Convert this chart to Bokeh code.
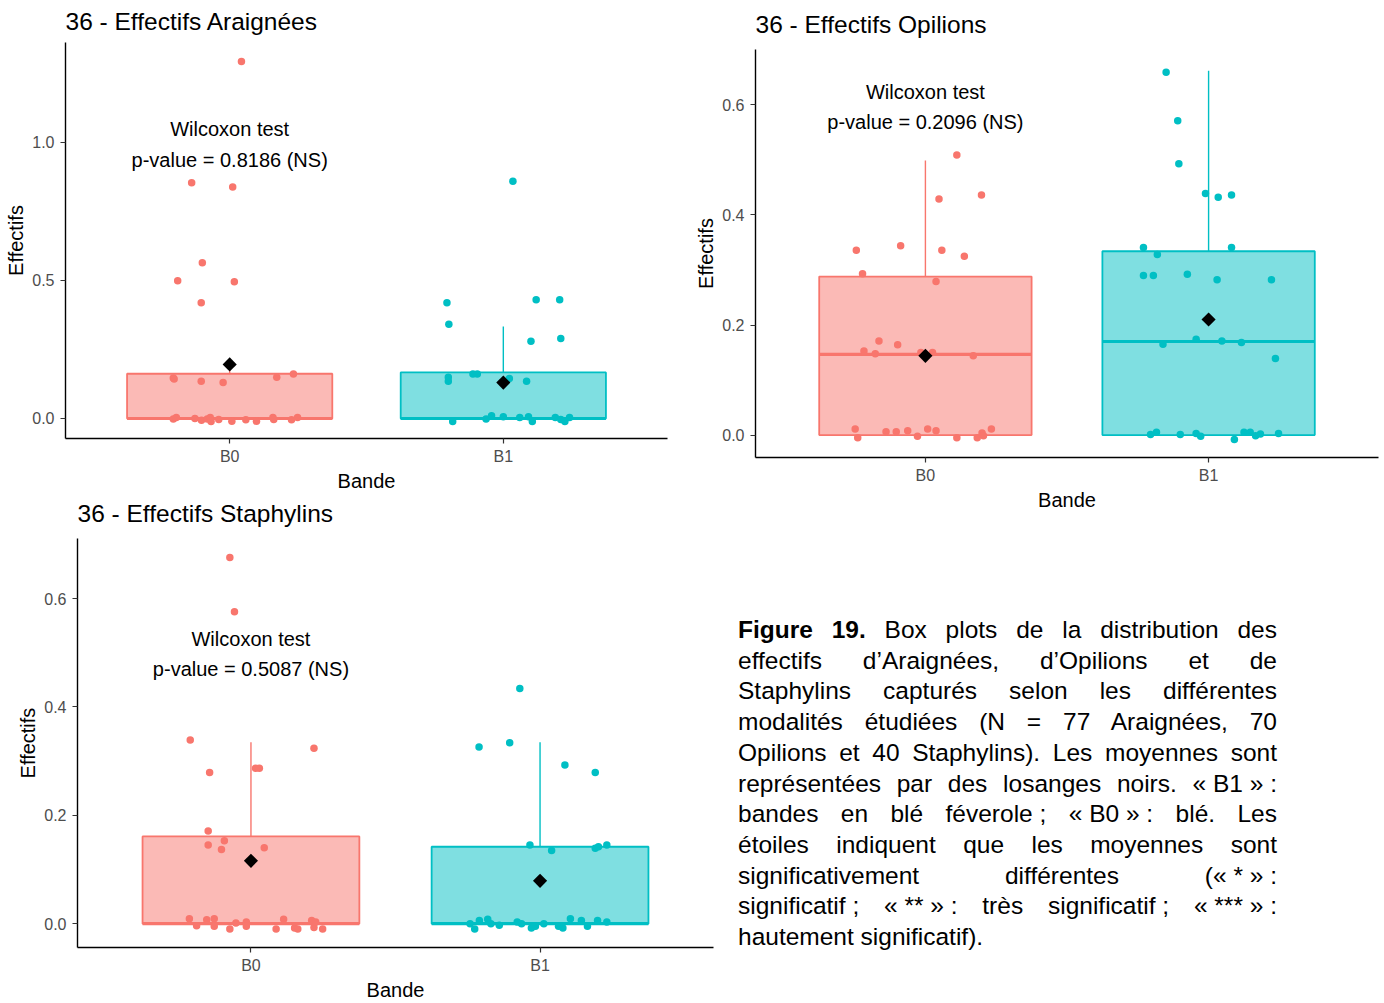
from bokeh.plotting import figure
from bokeh.models import Range1d, FixedTicker, Label, Div, NumeralTickFormatter
from bokeh.layouts import column, row
from bokeh.embed import file_html
from bokeh.resources import INLINE

GROUPS = ["B0", "B1"]
HUES = ["#F8766D", "#00BFC4"]
FONT = "Liberation Sans"

# ---------------- Araignées ----------------
ara_b0_dx = [0.043, -0.139, 0.011, -0.100, -0.190, 0.017, -0.104, -0.206, -0.203, -0.104, -0.024, 0.172, 0.233,
             -0.206, -0.195, -0.127, -0.103, -0.082, -0.071, -0.068, -0.040, 0.008, 0.059, 0.098, 0.158, 0.161,
             0.226, 0.248]
ara_b0_y = [1.293, 0.854, 0.839, 0.564, 0.499, 0.495, 0.419, 0.147, 0.143, 0.135, 0.130, 0.149, 0.161,
            -0.002, 0.004, 0.000, -0.006, -0.002, 0.004, -0.011, -0.004, -0.010, -0.005, -0.010, 0.004, -0.004,
            -0.005, 0.004]
ara_b1_dx = [0.035, -0.206, 0.120, 0.206, -0.199, 0.210, 0.101, -0.201, -0.201, -0.111, -0.095, 0.022, 0.085,
             -0.185, -0.063, -0.043, 0.000, 0.060, 0.092, 0.106, 0.190, 0.210, 0.225, 0.242]
ara_b1_y = [0.859, 0.419, 0.430, 0.430, 0.341, 0.290, 0.280, 0.149, 0.135, 0.161, 0.161, 0.145, 0.135,
            -0.011, -0.002, 0.010, 0.006, 0.004, 0.006, -0.011, 0.004, -0.004, -0.011, 0.004]
ara_q1 = [0.0, 0.0]
ara_median = [0.0, 0.0]
ara_q3 = [0.162, 0.167]
ara_upper = [0.185, 0.333]
ara_mean = [0.196, 0.130]
ara_pvalue = "0.8186"
ara_yticks = [0.0, 0.5, 1.0]

# ---------------- Opilions ----------------
opi_b0_dx = [0.111, 0.198, 0.048, -0.244, -0.0875, 0.058, 0.1375, -0.222, 0.0375, -0.164, -0.098, -0.217, -0.177,
             -0.016, 0.025, 0.169,
             -0.248, -0.239, -0.139, -0.103, -0.0625, -0.028, 0.008, 0.0375, 0.111, 0.183, 0.200, 0.205, 0.233]
opi_b0_y = [0.509, 0.436, 0.429, 0.336, 0.344, 0.336, 0.325, 0.293, 0.279, 0.171, 0.164, 0.153, 0.148,
            0.150, 0.150, 0.144,
            0.011, -0.005, 0.006, 0.006, 0.008, -0.002, 0.011, 0.008, -0.005, -0.005, 0.004, -0.001, 0.011]
opi_b1_dx = [-0.150, -0.109, -0.105, -0.011, 0.034, 0.081, -0.230, 0.081, -0.181, -0.230, -0.195, -0.075, 0.030,
             0.222, -0.161, -0.044, 0.047, 0.116, 0.236,
             -0.205, -0.184, -0.100, -0.044, -0.028, 0.091, 0.125, 0.147, 0.166, 0.183, 0.247]
opi_b1_y = [0.659, 0.571, 0.493, 0.439, 0.432, 0.436, 0.341, 0.341, 0.328, 0.290, 0.290, 0.292, 0.282,
            0.282, 0.165, 0.174, 0.171, 0.168, 0.139,
            0.001, 0.005, 0.001, 0.003, -0.002, -0.008, 0.005, 0.005, -0.001, 0.002, 0.003]
opi_q1 = [0.0, 0.0]
opi_median = [0.1467, 0.170]
opi_q3 = [0.288, 0.334]
opi_upper = [0.499, 0.662]
opi_mean = [0.144, 0.210]
opi_pvalue = "0.2096"
opi_yticks = [0.0, 0.2, 0.4, 0.6]

# ---------------- Staphylins ----------------
sta_b0_dx = [-0.073, -0.057, -0.210, 0.218, -0.143, 0.016, 0.029, -0.148, -0.092, -0.148, -0.102, 0.046,
             -0.213, -0.188, -0.153, -0.127, -0.127, -0.073, -0.052, -0.016, -0.016, 0.087, 0.113, 0.151, 0.162,
             0.210, 0.218, 0.248, 0.224]
sta_b0_y = [0.676, 0.576, 0.339, 0.324, 0.279, 0.287, 0.287, 0.171, 0.153, 0.145, 0.137, 0.140,
            0.009, -0.004, 0.007, 0.009, -0.005, -0.010, 0.001, 0.003, -0.005, -0.010, 0.008, -0.008, -0.010,
            0.006, -0.007, -0.010, 0.003]
sta_b1_dx = [-0.070, -0.211, -0.105, 0.086, 0.191, -0.035, 0.040, 0.191, 0.202, 0.231,
             -0.242, -0.226, -0.210, -0.181, -0.170, -0.141, -0.079, -0.064, -0.030, -0.016, 0.013, 0.064, 0.079,
             0.105, 0.143, 0.164, 0.199, 0.231]
sta_b1_y = [0.434, 0.326, 0.334, 0.293, 0.279, 0.145, 0.135, 0.139, 0.142, 0.145,
            0.000, -0.010, 0.006, 0.008, 0.000, -0.003, 0.003, 0.000, -0.008, -0.005, 0.000, -0.005, -0.008,
            0.009, 0.006, -0.005, 0.006, 0.003]
sta_q1 = [0.0, 0.0]
sta_median = [0.0, 0.0]
sta_q3 = [0.161, 0.142]
sta_upper = [0.335, 0.335]
sta_mean = [0.116, 0.079]
sta_pvalue = "0.5087"
sta_yticks = [0.0, 0.2, 0.4, 0.6]


def keep(s):
    # a group of words that justification must not spread apart
    return f'<span style="display:inline-block;text-align-last:left;">{s}</span>'


CAPTION_LINES = [
    "<b>Figure 19.</b> Box plots de la distribution des",
    "effectifs d’Araignées, d’Opilions et de",
    "Staphylins capturés selon les différentes",
    "modalités étudiées (N = 77 Araignées, 70",
    "Opilions et 40 Staphylins). Les moyennes sont",
    "représentées par des losanges noirs. " + keep("« B1 » :"),
    "bandes en blé " + keep("féverole ;") + " " + keep("« B0 » :") + " blé. Les",
    "étoiles indiquent que les moyennes sont",
    "significativement différentes " + keep("(« * » :"),
    keep("significatif ;") + " " + keep("« ** » :") + " très " + keep("significatif ;") + " " + keep("« *** » :"),
    "hautement significatif).",
]


def box_panel(title, b0_dx, b0_y, b1_dx, b1_y, q1, med, q3, upper, mean, pvalue, yticks,
              y_range, size, borders, ann_y, title_gap, margin=None):
    width, height = size
    left, right, top, bottom = borders
    p = figure(width=width, height=height, output_backend="svg", toolbar_location=None,
               x_range=Range1d(0.4, 2.6), y_range=Range1d(*y_range),
               min_border_left=left, min_border_right=right,
               min_border_top=top, min_border_bottom=bottom,
               title=title, x_axis_label="Bande", y_axis_label="Effectifs")
    p.frame_align = False
    if margin is not None:
        p.margin = margin
    p.outline_line_color = None
    p.grid.visible = False
    p.background_fill_color = "white"
    p.border_fill_color = "white"

    p.title.text_font = FONT
    p.title.text_font_size = "24.5px"
    p.title.text_font_style = "normal"
    p.title.text_color = "black"
    p.title.align = "left"
    p.title.vertical_align = "top"
    p.title.standoff = title_gap

    for ax in (p.xaxis[0], p.yaxis[0]):
        ax.axis_line_color = "black"
        ax.axis_line_width = 1.4
        ax.major_tick_line_color = "#333333"
        ax.major_tick_line_width = 1.2
        ax.major_tick_out = 5
        ax.major_tick_in = 0
        ax.minor_tick_line_color = None
        ax.major_label_text_font = FONT
        ax.major_label_text_font_size = "16px"
        ax.major_label_text_color = "#4D4D4D"
        ax.axis_label_text_font = FONT
        ax.axis_label_text_font_size = "20px"
        ax.axis_label_text_font_style = "normal"
        ax.axis_label_text_color = "black"

    p.xaxis.ticker = FixedTicker(ticks=[1, 2])
    p.xaxis.major_label_overrides = {1: GROUPS[0], 2: GROUPS[1]}
    p.xaxis.major_label_standoff = 4
    p.xaxis.axis_label_standoff = 2
    p.yaxis.ticker = FixedTicker(ticks=yticks)
    p.yaxis.formatter = NumeralTickFormatter(format="0.0")
    p.yaxis.major_label_standoff = 6
    p.yaxis.axis_label_standoff = 2

    xs = [1, 2]
    half = 0.375
    # boxes
    p.quad(left=[x - half for x in xs], right=[x + half for x in xs], bottom=q1, top=q3,
           fill_color=HUES, fill_alpha=0.5, line_color=HUES, line_width=1.8)
    # upper whiskers
    p.segment(x0=xs, y0=q3, x1=xs, y1=upper, line_color=HUES, line_width=1.4)
    # medians
    p.segment(x0=[x - half for x in xs], y0=med, x1=[x + half for x in xs], y1=med,
              line_color=HUES, line_width=3.2)
    # jittered observations
    for i, (dx, ys) in enumerate(((b0_dx, b0_y), (b1_dx, b1_y))):
        p.scatter(x=[xs[i] + d for d in dx], y=ys, size=7.5, color=HUES[i], line_color=None)
    # means
    p.scatter(x=xs, y=mean, marker="square", angle=0.785398, size=10,
              color="black", line_color=None)

    for txt, yy in (("Wilcoxon test", ann_y[0]), ("p-value = " + pvalue + " (NS)", ann_y[1])):
        p.add_layout(Label(x=1, y=yy, text=txt, text_align="center", text_baseline="middle",
                           text_font=FONT, text_font_size="20px", text_color="black"))
    return p


p_ara = box_panel("36 - Effectifs Araignées", ara_b0_dx, ara_b0_y, ara_b1_dx, ara_b1_y,
                  ara_q1, ara_median, ara_q3, ara_upper, ara_mean, ara_pvalue, ara_yticks,
                  (-0.0725, 1.362), (690, 515), (65, 23, 42, 515 - 42 - 396), (1.05, 0.938), 12)

p_opi = box_panel("36 - Effectifs Opilions", opi_b0_dx, opi_b0_y, opi_b1_dx, opi_b1_y,
                  opi_q1, opi_median, opi_q3, opi_upper, opi_mean, opi_pvalue, opi_yticks,
                  (-0.0407, 0.7005), (694, 515), (65, 6, 49, 515 - 49 - 408), (0.624, 0.569), 20)

p_sta = box_panel("36 - Effectifs Staphylins", sta_b0_dx, sta_b0_y, sta_b1_dx, sta_b1_y,
                  sta_q1, sta_median, sta_q3, sta_upper, sta_mean, sta_pvalue, sta_yticks,
                  (-0.044, 0.711), (720, 514), (77, 7, 48, 514 - 48 - 414), (0.525, 0.471), 20,
                  margin=(-26, 0, 0, 0))

line_divs = []
for k, line in enumerate(CAPTION_LINES):
    last = "left" if k == len(CAPTION_LINES) - 1 else "justify"
    line_divs.append(
        f'<div style="text-align:justify;text-align-last:{last};white-space:nowrap;">{line}</div>')
caption = Div(
    text=(f'<div style="width:539px;margin-left:18px;font-family:\'{FONT}\',Arial,sans-serif;'
          'font-size:24.5px;line-height:30.7px;color:#000;">' + "".join(line_divs) + "</div>"),
    width=664, height=360, margin=(100, 0, 0, 0))

layout = column(row(p_ara, p_opi, spacing=0), row(p_sta, caption, spacing=0), spacing=0)

with open("out.html", "w") as f:
    f.write(file_html(layout, INLINE, title="Effectifs"))
